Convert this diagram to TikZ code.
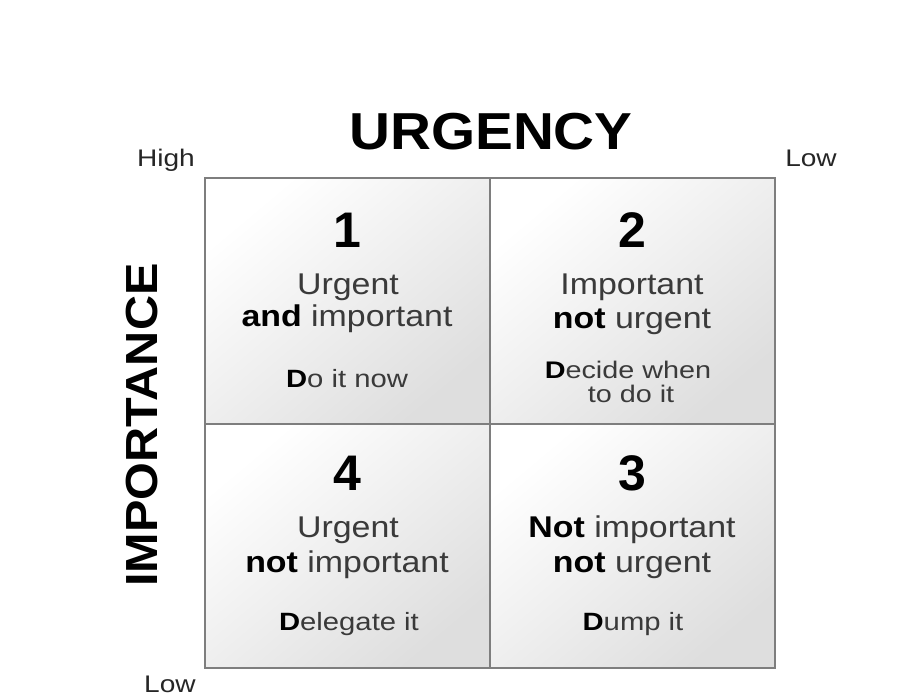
\documentclass[tikz,border=0pt]{standalone}
\usepackage{fontspec}
\usepackage{graphicx}
\setmainfont{Liberation Sans}
\newcommand{\wider}[2][1.13]{\scalebox{#1}[1]{#2}}
\newcommand{\fs}[1]{\fontsize{#1}{#1}\selectfont}
\definecolor{bodytext}{HTML}{3A3A3A}
\definecolor{cellline}{HTML}{7E7E7E}
\begin{document}
\begin{tikzpicture}[x=1pt,y=-1pt,
  cell/.style={draw=cellline,line width=1.6pt,top color=white,bottom color=black!13,shading angle=40},
  digit/.style={anchor=base,inner sep=0pt,font=\fs{50}\bfseries,text=black},
  line/.style={anchor=base,inner sep=0pt,font=\fs{30},text=bodytext},
  action/.style={anchor=base,inner sep=0pt,font=\fs{25},text=bodytext},
  level/.style={anchor=base,inner sep=0pt,font=\fs{24},text=black!85},
  axis/.style={anchor=base,inner sep=0pt,text=black}]
\useasboundingbox (0,0) rectangle (900,700);

% four quadrants
\draw[cell] (205,178) rectangle (490,424);
\draw[cell] (490,178) rectangle (775,424);
\draw[cell] (205,424) rectangle (490,668);
\draw[cell] (490,424) rectangle (775,668);

% axis titles and ends
\node[axis,font=\fs{52}\bfseries] (urg) at (491,150) {\wider[1.09]{URGENCY}};
\node[axis,font=\fs{45}\bfseries,rotate=90] (imp) at (157,425) {\wider[1.08]{IMPORTANCE}};
\node[level] (high) at (166,167) {\wider[1.17]{High}};
\node[level] (lowu) at (811,167) {\wider[1.17]{Low}};
\node[level] (lowi) at (170,692) {\wider[1.17]{Low}};

% quadrant 1
\node[digit] (d1) at (347,248) {1};
\node[line] (q1a) at (348,295) {\wider{Urgent}};
\node[line] (q1b) at (347,327) {\wider{\textcolor{black}{\bfseries and} important}};
\node[action] (q1c) at (347,388) {\wider[1.17]{\textcolor{black}{\bfseries D}o it now}};

% quadrant 2
\node[digit] (d2) at (632,248) {2};
\node[line] (q2a) at (632,295) {\wider{Important}};
\node[line] (q2b) at (632,329) {\wider{\textcolor{black}{\bfseries not} urgent}};
\node[action,font=\fs{24}] (q2c) at (628,379) {\wider[1.2]{\textcolor{black}{\bfseries D}ecide when}};
\node[action,font=\fs{24}] (q2d) at (631,403) {\wider[1.2]{to do it}};

% quadrant 4
\node[digit] (d4) at (347,490) {4};
\node[line] (q4a) at (348,537) {\wider{Urgent}};
\node[line] (q4b) at (347,572) {\wider{\textcolor{black}{\bfseries not} important}};
\node[action] (q4c) at (349,630) {\wider[1.17]{\textcolor{black}{\bfseries D}elegate it}};

% quadrant 3
\node[digit] (d3) at (632,490) {3};
\node[line] (q3a) at (632,537) {\wider{\textcolor{black}{\bfseries Not} important}};
\node[line] (q3b) at (632,572) {\wider{\textcolor{black}{\bfseries not} urgent}};
\node[action] (q3c) at (633,630) {\wider[1.17]{\textcolor{black}{\bfseries D}ump it}};
\end{tikzpicture}
\end{document}
